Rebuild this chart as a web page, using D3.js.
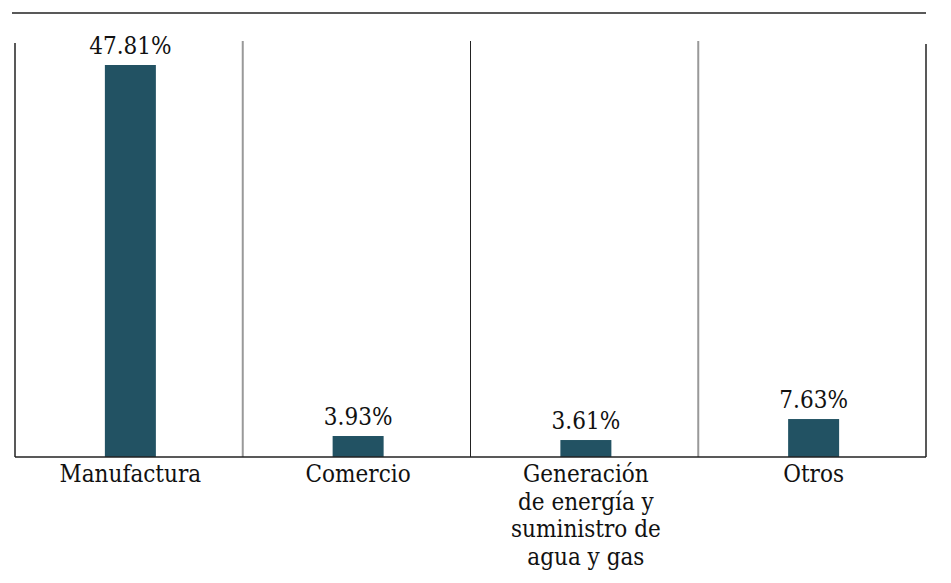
<!DOCTYPE html>
<html>
<head>
<meta charset="utf-8">
<script src="https://cdn.jsdelivr.net/npm/d3@7"></script>
<style>
  html, body { margin: 0; padding: 0; background: #fff; }
  svg { display: block; }
</style>
</head>
<body>
<svg id="chart"></svg>
<script>
// categories (multi-line labels)
var categories = ["Manufactura", "Comercio", "Generación de energía y suministro de agua y gas", "Otros"];
var categoryLines = [
  ["Manufactura"],
  ["Comercio"],
  ["Generación", "de energía y", "suministro de", "agua y gas"],
  ["Otros"]
];
// printed value labels
var valueLabels = ["47.81%", "3.93%", "3.61%", "7.63%"];
// bar lengths as drawn in the picture (same units as the first bar)
var barValues = [47.81, 2.56, 2.07, 4.63];

var width = 951, height = 583;
var plotLeft = 15, plotRight = 926, plotTop = 65, baseline = 457;
var serif = "'DejaVu Serif Condensed', 'DejaVu Serif', serif";
var fontSize = 24;

var svg = d3.select("#chart")
    .attr("width", width)
    .attr("height", height);

var x = d3.scaleBand()
    .domain(categories)
    .range([plotLeft, plotRight])
    .paddingInner(0)
    .paddingOuter(0);

var y = d3.scaleLinear()
    .domain([0, d3.max(barValues)])
    .range([baseline, plotTop]);

var barW = 51;

// top rule
svg.append("line")
  .attr("x1", 12).attr("x2", plotRight)
  .attr("y1", 13).attr("y2", 13)
  .attr("stroke", "#222").attr("stroke-width", 1.5);

// separators between categories
categories.slice(1).forEach(function(c, i) {
  var sx = x(c);
  svg.append("line")
    .attr("x1", sx).attr("x2", sx)
    .attr("y1", 41).attr("y2", baseline)
    .attr("stroke", i == 1 ? "#222" : "#999")
    .attr("stroke-width", i == 1 ? 1 : 2);
});

// left and right frame
svg.append("line")
  .attr("x1", plotLeft).attr("x2", plotLeft)
  .attr("y1", 43).attr("y2", baseline)
  .attr("stroke", "#222").attr("stroke-width", 1.5);
svg.append("line")
  .attr("x1", plotRight).attr("x2", plotRight)
  .attr("y1", 44).attr("y2", baseline)
  .attr("stroke", "#222").attr("stroke-width", 1.5);

// bars
svg.selectAll("rect.bar")
  .data(categories)
  .enter().append("rect")
  .attr("class", "bar")
  .attr("x", function(d) { return x(d) + x.bandwidth()/2 - barW/2 + 1.5; })
  .attr("y", function(d, i) { return y(barValues[i]); })
  .attr("width", barW)
  .attr("height", function(d, i) { return baseline - y(barValues[i]); })
  .attr("fill", "#225263");

// value labels
svg.selectAll("text.val")
  .data(categories)
  .enter().append("text")
  .attr("class", "val")
  .attr("x", function(d) { return x(d) + x.bandwidth()/2 + 1.5; })
  .attr("y", function(d, i) { return y(barValues[i]) - 11; })
  .attr("text-anchor", "middle")
  .attr("font-family", serif)
  .attr("font-stretch", "condensed")
  .attr("font-size", fontSize + "px")
  .attr("fill", "#111")
  .text(function(d, i) { return valueLabels[i]; });

// baseline
svg.append("line")
  .attr("x1", plotLeft).attr("x2", plotRight)
  .attr("y1", baseline).attr("y2", baseline)
  .attr("stroke", "#222").attr("stroke-width", 1.5);

// category labels
categories.forEach(function(c, i) {
  var t = svg.append("text")
    .attr("text-anchor", "middle")
    .attr("font-family", serif)
    .attr("font-stretch", "condensed")
    .attr("font-size", fontSize + "px")
    .attr("fill", "#111");
  categoryLines[i].forEach(function(line, j) {
    t.append("tspan")
      .attr("x", x(c) + x.bandwidth()/2 + 1.5)
      .attr("y", 482 + j*27.7)
      .text(line);
  });
});
</script>
</body>
</html>
